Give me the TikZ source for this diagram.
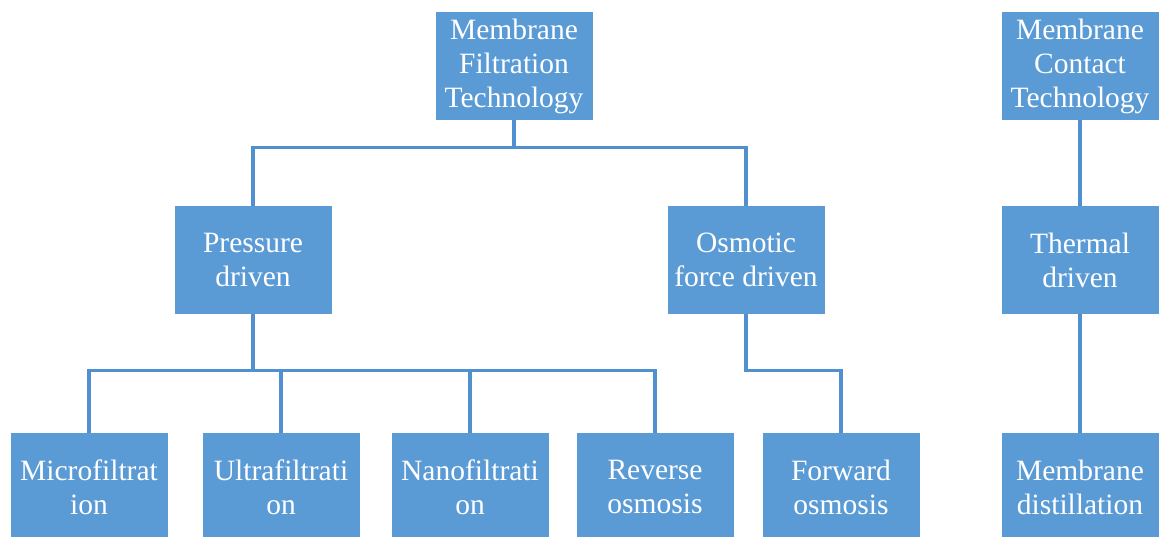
\documentclass[tikz,border=0pt]{standalone}
\usepackage{fontspec}
\setmainfont{Liberation Serif}
\definecolor{boxblue}{HTML}{5B9BD5}
\definecolor{lineblue}{HTML}{5190D0}
\tikzset{
  box/.style={rectangle, fill=boxblue, draw=none, text=white, minimum width=157pt, minimum height=108pt, inner sep=0pt, align=center, font=\fontsize{29.5}{34}\selectfont},
  link/.style={draw=lineblue, line width=3.3pt}
}
\begin{document}
\begin{tikzpicture}[x=1pt,y=-1pt]
\useasboundingbox (0,0) rectangle (1161,537);
\node[box] (mft) at (514,66) {Membrane\\Filtration\\Technology};
\node[box] (mct) at (1080,66) {Membrane\\Contact\\Technology};
\node[box] (pd) at (253,260) {Pressure\\driven};
\node[box] (ofd) at (746,260) {Osmotic\\force driven};
\node[box] (td) at (1080,260) {Thermal\\driven};
\node[box] (mf) at (89,487) {Microfiltrat\\ion};
\node[box] (uf) at (281,487) {Ultrafiltrati\\on};
\node[box] (nf) at (470,487) {Nanofiltrati\\on};
\node[box] (ro) at (655,487) {Reverse\\osmosis};
\node[box] (fo) at (841,487) {Forward\\osmosis};
\node[box] (md) at (1080,487) {Membrane\\distillation};
% connectors
\draw[link] (mft.south) -- ++(0,27) coordinate (j1);
\draw[link] (pd.north) |- (j1);
\draw[link] (ofd.north) |- (j1);
\draw[link] (pd.south) -- ++(0,56) coordinate (j2);
\draw[link] (mf.north) |- (j2);
\draw[link] (uf.north) |- (j2);
\draw[link] (nf.north) |- (j2);
\draw[link] (ro.north) |- (j2);
\draw[link] (ofd.south) -- ++(0,56) -| (fo.north);
\draw[link] (mct.south) -- (td.north);
\draw[link] (td.south) -- (md.north);
\end{tikzpicture}
\end{document}
